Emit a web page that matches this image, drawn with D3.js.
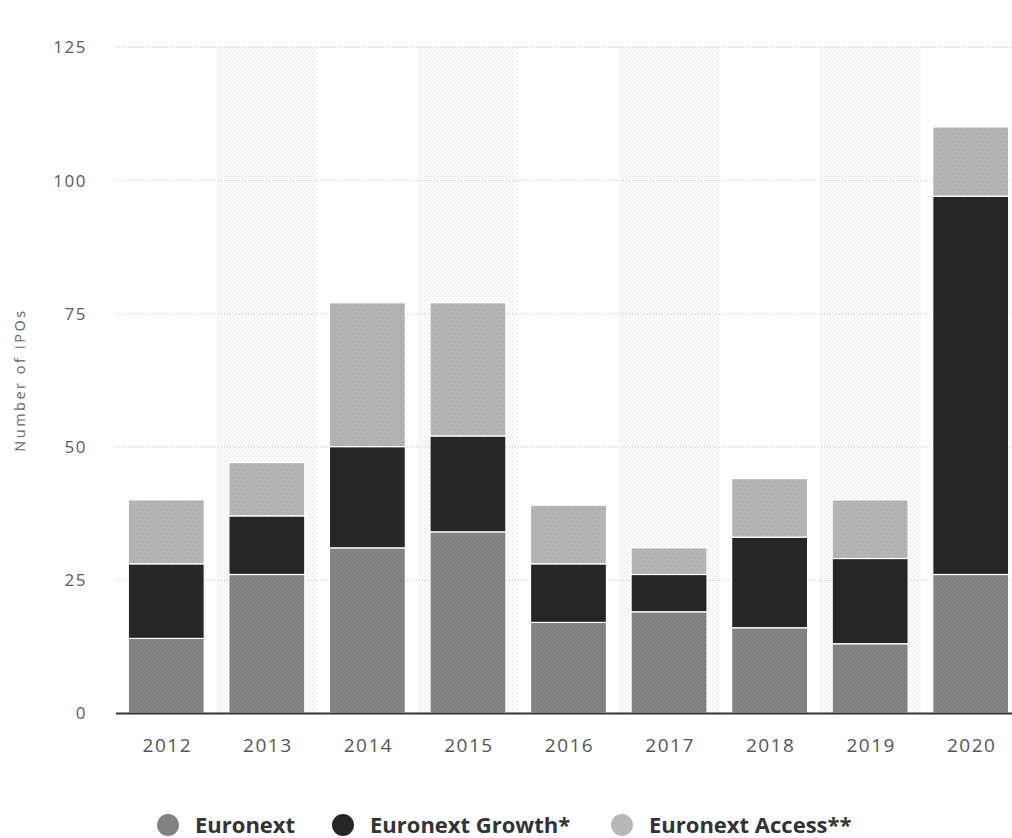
<!DOCTYPE html>
<html>
<head>
<meta charset="utf-8">
<script src="https://cdn.jsdelivr.net/npm/d3@7"></script>
<style>
  html, body { margin: 0; padding: 0; background: #fff; }
  svg { display: block; }
</style>
</head>
<body>
<svg id="chart" width="1012" height="838"></svg>
<script>
// IPO counts per year, split by market segment
const years = ["2012", "2013", "2014", "2015", "2016", "2017", "2018", "2019", "2020"];
const euronext = [14, 26, 31, 34, 17, 19, 16, 13, 26];
const euronextGrowth = [14, 11, 19, 18, 11, 7, 17, 16, 71];
const euronextAccess = [12, 10, 27, 25, 11, 5, 11, 11, 13];
const seriesNames = ["Euronext", "Euronext Growth*", "Euronext Access**"];
const yTicks = [0, 25, 50, 75, 100, 125];
const yLabel = "Number of IPOs";

const svg = d3.select("#chart");
const defs = svg.append("defs");

// fine textures used by bars and background stripes
const pStripe = defs.append("pattern").attr("id", "stripe").attr("patternUnits", "userSpaceOnUse")
  .attr("width", 4).attr("height", 4);
pStripe.append("rect").attr("width", 4).attr("height", 4).attr("fill", "#fafafa");
pStripe.append("rect").attr("x", 0).attr("y", 0).attr("width", 1).attr("height", 1).attr("fill", "#e2e2e2");
pStripe.append("rect").attr("x", 2).attr("y", 2).attr("width", 1).attr("height", 1).attr("fill", "#e2e2e2");

const pBase = defs.append("pattern").attr("id", "base").attr("patternUnits", "userSpaceOnUse")
  .attr("width", 4).attr("height", 4);
pBase.append("rect").attr("width", 4).attr("height", 4).attr("fill", "#828282");
pBase.append("rect").attr("x", 0).attr("y", 0).attr("width", 1).attr("height", 1).attr("fill", "#747474");
pBase.append("rect").attr("x", 2).attr("y", 2).attr("width", 1).attr("height", 1).attr("fill", "#747474");
pBase.append("rect").attr("x", 1).attr("y", 3).attr("width", 1).attr("height", 1).attr("fill", "#8e8e8e");
pBase.append("rect").attr("x", 3).attr("y", 1).attr("width", 1).attr("height", 1).attr("fill", "#8e8e8e");

const pAccess = defs.append("pattern").attr("id", "access").attr("patternUnits", "userSpaceOnUse")
  .attr("width", 6).attr("height", 8);
pAccess.append("rect").attr("width", 6).attr("height", 8).attr("fill", "#b4b4b4");
pAccess.append("rect").attr("x", 1).attr("y", 1).attr("width", 1).attr("height", 1).attr("fill", "#9a9a9a");
pAccess.append("rect").attr("x", 4).attr("y", 5).attr("width", 1).attr("height", 1).attr("fill", "#9a9a9a");

const fills = ["url(#base)", "#262626", "url(#access)"];
const legendFills = ["#828282", "#262626", "#b8b8b8"];

const x = d3.scaleBand().domain(years).range([116, 1021]).paddingInner(0.245).paddingOuter(0.1225);
const y = d3.scaleLinear().domain([0, 125]).range([713, 47]);

// alternating background columns
const step = x.step();
svg.append("g").selectAll("rect")
  .data(years.filter((d, i) => i % 2 === 1))
  .join("rect")
  .attr("x", d => x(d) + x.bandwidth() / 2 - step / 2)
  .attr("y", y(125))
  .attr("width", step)
  .attr("height", y(0) - y(125))
  .attr("fill", "url(#stripe)");

// horizontal grid
svg.append("g").selectAll("line")
  .data(yTicks.filter(t => t > 0))
  .join("line")
  .attr("x1", 116).attr("x2", 1012)
  .attr("y1", d => y(d) + 0.5).attr("y2", d => y(d) + 0.5)
  .attr("stroke", "#c0c0c0").attr("stroke-width", 1)
  .attr("stroke-dasharray", "1,2");

// stacked bars
const rows = years.map((yr, i) => ({ year: yr, v: [euronext[i], euronextGrowth[i], euronextAccess[i]] }));
const stack = d3.stack().keys([0, 1, 2]).value((d, k) => d.v[k]);
const layers = stack(rows);

svg.append("g").selectAll("g")
  .data(layers)
  .join("g")
  .attr("fill", (d, i) => fills[i])
  .selectAll("rect")
  .data(d => d)
  .join("rect")
  .attr("x", d => x(d.data.year))
  .attr("y", d => y(d[1]))
  .attr("width", x.bandwidth())
  .attr("height", d => y(d[0]) - y(d[1]))
  .attr("stroke", "#ffffff")
  .attr("stroke-width", 1.2);

// baseline
svg.append("line")
  .attr("x1", 116).attr("x2", 1012)
  .attr("y1", y(0) + 0.5).attr("y2", y(0) + 0.5)
  .attr("stroke", "#333").attr("stroke-width", 2);

// y axis labels
const yAxis = d3.axisLeft(y).tickValues(yTicks).tickSize(0).tickPadding(0);
const yg = svg.append("g").attr("transform", "translate(87,0)").call(yAxis);
yg.select(".domain").remove();
yg.selectAll("text")
  .attr("font-family", "'Open Sans', sans-serif")
  .attr("font-size", 17)
  .attr("fill", "#5a5a5a")
  .attr("letter-spacing", "1.5px")
  .attr("dy", "0.35em");

// x axis labels
const xAxis = d3.axisBottom(x).tickSize(0).tickPadding(0);
const xg = svg.append("g").attr("transform", "translate(1,745)").call(xAxis);
xg.select(".domain").remove();
xg.selectAll("text")
  .attr("font-family", "'Open Sans', sans-serif")
  .attr("font-size", 19)
  .attr("fill", "#555")
  .attr("letter-spacing", "1.5px")
  .attr("dy", "0.35em");

// y axis title
svg.append("text")
  .attr("transform", "translate(20,380) rotate(-90)")
  .attr("text-anchor", "middle")
  .attr("dy", "0.35em")
  .attr("font-family", "'Open Sans', sans-serif")
  .attr("font-size", 14.5)
  .attr("fill", "#666")
  .attr("letter-spacing", "2.5px")
  .text(yLabel);

// legend
const legendX = [168, 343, 622];
const lg = svg.append("g").selectAll("g")
  .data(seriesNames)
  .join("g")
  .attr("transform", (d, i) => `translate(${legendX[i]},825)`);
lg.append("circle").attr("r", 11).attr("fill", (d, i) => legendFills[i]);
lg.append("text")
  .attr("x", 27)
  .attr("dy", "0.35em")
  .attr("font-family", "'Open Sans', sans-serif")
  .attr("font-weight", "bold")
  .attr("font-size", 22)
  .attr("fill", "#333")
  .text(d => d);
</script>
</body>
</html>
